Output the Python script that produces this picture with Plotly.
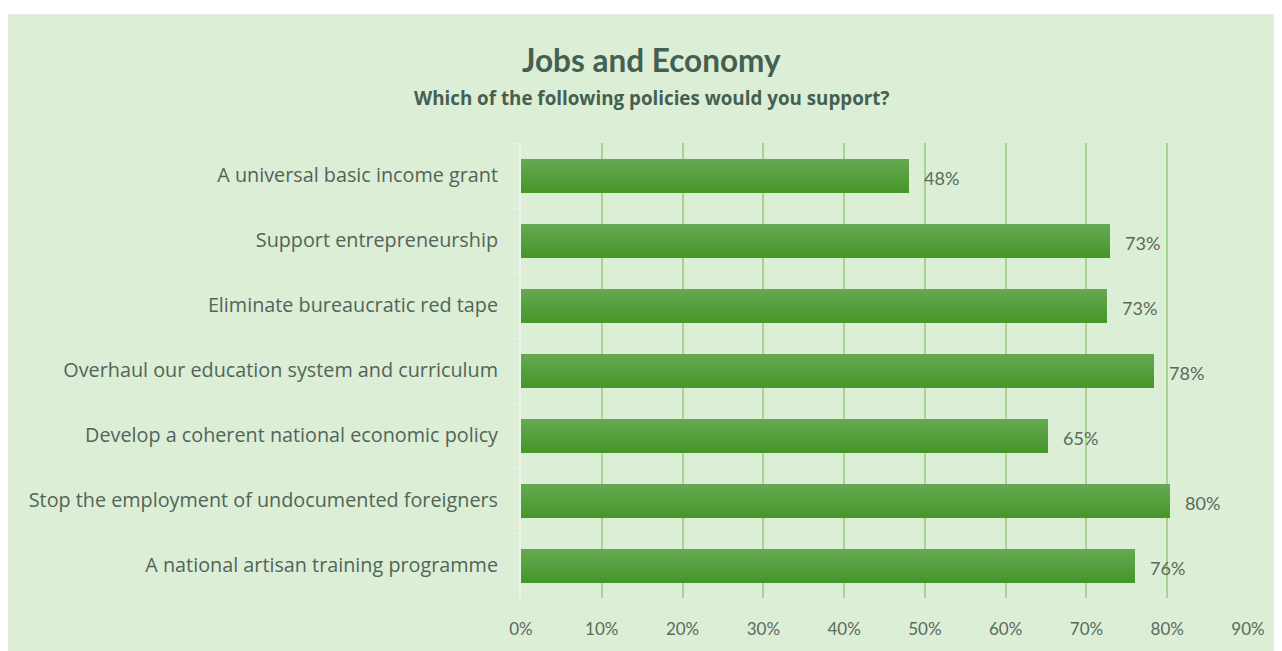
import plotly.graph_objects as go

categories = [
    "A universal basic income grant",
    "Support entrepreneurship",
    "Eliminate bureaucratic red tape",
    "Overhaul our education system and curriculum",
    "Develop a coherent national economic policy",
    "Stop the employment of undocumented foreigners",
    "A national artisan training programme",
]
values = [48.0, 72.9, 72.6, 78.4, 65.3, 80.3, 76.0]
tick_vals = [0, 10, 20, 30, 40, 50, 60, 70, 80, 90]
tick_text = [f"{v}%" for v in tick_vals]

# page has an 8px body margin; figure coordinates are page coordinates minus 8
OFF = 8
W, H = 1282 - OFF, 651 - OFF
L, R, T, B = 521 - OFF, 34, 143 - OFF, 50
pw, ph = W - L - R, H - T - B

BG = "#DCEED5"
TXT = "#52645A"
FONT = "Lato"
FONT2 = "Open Sans"

top_col = (0x67, 0xA9, 0x52)
bot_col = (0x45, 0x96, 0x29)
bar_w = 0.52
n = 14

fig = go.Figure()
for i in range(n):
    t = (i + 0.5) / n  # 0 = top edge, 1 = bottom edge (reversed axis)
    c = tuple(round(top_col[k] + (bot_col[k] - top_col[k]) * t) for k in range(3))
    fig.add_trace(go.Bar(
        y=categories, x=values, orientation="h",
        width=bar_w / n + 0.002, offset=-bar_w / 2 + i * bar_w / n,
        marker=dict(color="rgb(%d,%d,%d)" % c, line=dict(width=0)),
        hoverinfo="skip", showlegend=False,
    ))

for c, v in zip(categories, values):
    fig.add_annotation(x=v, y=c, text=f"{round(v)}%", showarrow=False,
                       xanchor="left", xshift=13, yshift=-2,
                       font=dict(family=FONT, size=18, color="#5A6A5E"))

def px_x(p):
    return (p - OFF - L) / pw

def px_y(p):
    return (H - B - (p - OFF)) / ph

fig.add_shape(type="rect", xref="paper", yref="paper",
              x0=px_x(8), x1=px_x(1290), y0=px_y(660), y1=px_y(14),
              fillcolor=BG, line=dict(color="#E2E6E0", width=1), layer="below")

fig.add_annotation(xref="paper", yref="paper", x=px_x(651), y=px_y(59),
                   text="<b>Jobs and Economy</b>", showarrow=False,
                   xanchor="center", yanchor="middle",
                   font=dict(family=FONT, size=31.5, color="#456050"))
fig.add_annotation(xref="paper", yref="paper", x=px_x(652), y=px_y(98),
                   text="<b>Which of the following policies would you support?</b>",
                   showarrow=False, xanchor="center", yanchor="middle",
                   font=dict(family=FONT2, size=18.8, color="#456050"))

fig.update_layout(
    width=W, height=H,
    margin=dict(l=L, r=R, t=T, b=B, pad=0),
    paper_bgcolor="white", plot_bgcolor="rgba(0,0,0,0)",
    barmode="overlay", bargap=0,
    showlegend=False,
    xaxis=dict(range=[0, 90], tickvals=tick_vals, ticktext=tick_text,
               showgrid=True, gridcolor="#A9D48F", gridwidth=2,
               zeroline=False, showline=False, ticks="",
               ticklabelstandoff=19,
               tickfont=dict(family=FONT, size=17, color="#5A6A5E")),
    yaxis=dict(categoryorder="array", categoryarray=categories,
               autorange="reversed", showgrid=False, zeroline=False,
               showline=True, linecolor="#EEF2EC", linewidth=2,
               ticks="outside", tickson="boundaries", ticklen=5,
               tickcolor="#EEF2EC", tickwidth=1,
               ticklabelstandoff=17,
               tickfont=dict(family=FONT2, size=19.8, color=TXT)),
)

fig.write_html("out.html")
